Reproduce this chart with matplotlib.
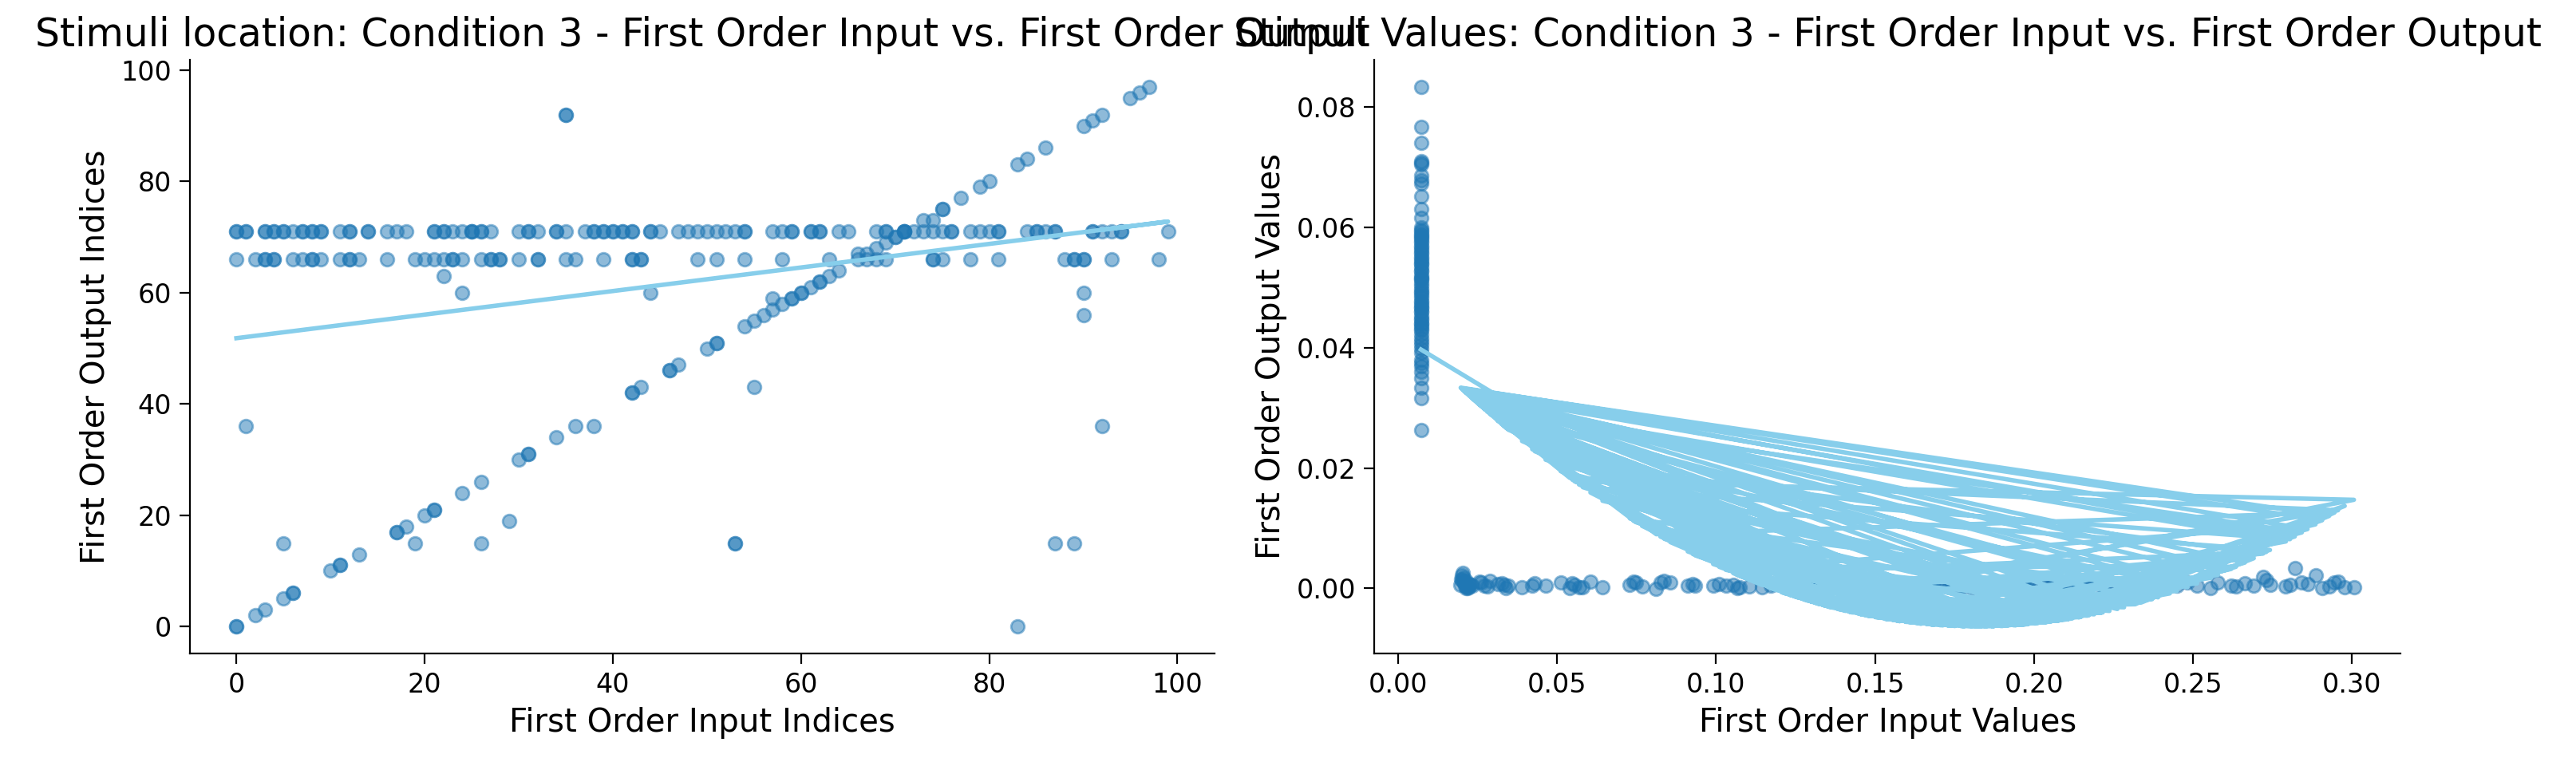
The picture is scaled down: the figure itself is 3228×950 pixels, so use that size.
import numpy as np
import matplotlib
matplotlib.use('Agg')
import matplotlib.pyplot as plt

# ---- left panel: stimuli location (indices) ----
row71_x = [0, 0, 1, 1, 3, 3, 4, 4, 5, 5, 6, 7, 7, 8, 8, 9, 9, 11, 12, 12, 14, 14, 16, 17, 18,
           21, 21, 22, 22, 23, 24, 25, 25, 25, 26, 26, 27, 30, 31, 31, 32, 34, 34, 35, 37,
           38, 38, 39, 39, 40, 40, 41, 41, 42, 42, 44, 44, 45, 47, 48, 49, 50, 51, 52, 53,
           54, 54, 57, 58, 59, 59, 61, 61, 62, 62, 64, 65, 68, 69, 69, 71, 71, 72, 73, 74,
           75, 76, 76, 78, 79, 80, 81, 81, 84, 85, 85, 86, 87, 87, 91, 91, 92, 93, 94, 94, 99]
row66_x = [0, 2, 3, 3, 4, 4, 6, 7, 8, 8, 9, 11, 12, 12, 13, 16, 19, 20, 21, 22, 23, 23,
           24, 26, 27, 27, 28, 28, 30, 32, 32, 35, 36, 39, 42, 42, 43, 43, 49, 51, 54, 58,
           63, 66, 67, 68, 69, 74, 74, 75, 78, 81, 88, 89, 89, 90, 90, 93, 98]
diag_x = [0, 0, 2, 3, 5, 6, 6, 10, 11, 11, 13, 17, 17, 18, 20, 21, 21, 24, 26, 30, 31, 31,
          34, 42, 42, 43, 46, 46, 47, 50, 51, 51, 54, 55, 56, 57, 58, 57, 59, 59, 60, 60,
          61, 62, 62, 63, 64, 66, 67, 68, 69, 70, 70, 71, 71, 73, 74, 75, 75, 77, 79, 80,
          83, 84, 86, 90, 91, 92, 95, 96, 97]
diag_y = [0, 0, 2, 3, 5, 6, 6, 10, 11, 11, 13, 17, 17, 18, 20, 21, 21, 24, 26, 30, 31, 31,
          34, 42, 42, 43, 46, 46, 47, 50, 51, 51, 54, 55, 56, 57, 58, 59, 59, 59, 60, 60,
          61, 62, 62, 63, 64, 67, 67, 68, 69, 70, 70, 71, 71, 73, 73, 75, 75, 77, 79, 80,
          83, 84, 86, 90, 91, 92, 95, 96, 97]
other_x = [1, 5, 19, 26, 29, 36, 38, 22, 24, 35, 35, 44, 55, 53, 53, 83, 87, 89, 90, 90, 92]
other_y = [36, 15, 15, 15, 19, 36, 36, 63, 60, 92, 92, 60, 43, 15, 15, 0, 15, 15, 60, 56, 36]

# ---- right panel: stimuli values ----
cluster_x = 0.0072
cluster_y = [0.0534, 0.0472, 0.0587, 0.0416, 0.0708, 0.0551, 0.0446, 0.0593, 0.0380, 0.0507,
             0.0563, 0.0429, 0.0834, 0.0498, 0.0575, 0.0453, 0.0360, 0.0521, 0.0600, 0.0484,
             0.0652, 0.0439, 0.0545, 0.0398, 0.0570, 0.0466, 0.0512, 0.0616, 0.0423, 0.0539,
             0.0491, 0.0705, 0.0581, 0.0350, 0.0459, 0.0527, 0.0768, 0.0436, 0.0556, 0.0478,
             0.0596, 0.0405, 0.0517, 0.0686, 0.0461, 0.0548, 0.0334, 0.0494, 0.0584, 0.0441,
             0.0631, 0.0529, 0.0369, 0.0567, 0.0475, 0.0411, 0.0741, 0.0503, 0.0559, 0.0449,
             0.0673, 0.0392, 0.0541, 0.0487, 0.0316, 0.0578, 0.0432, 0.0710, 0.0515, 0.0263,
             0.0678, 0.0468, 0.0374, 0.0589]

low_x = [0.1449, 0.0207, 0.2805, 0.0581, 0.1963, 0.1219, 0.0218, 0.2578, 0.1705, 0.0326,
         0.2141, 0.2928, 0.0199, 0.1558, 0.0935, 0.2336, 0.2691, 0.1301, 0.0224, 0.0748,
         0.1848, 0.2977, 0.2074, 0.0262, 0.0210, 0.1639, 0.2730, 0.1066, 0.1356, 0.2216,
         0.0202, 0.2860, 0.1779, 0.0422, 0.2482, 0.0214, 0.2513, 0.1510, 0.0837, 0.2004,
         0.1257, 0.2956, 0.0540, 0.0233, 0.1895, 0.2101, 0.2635, 0.1010, 0.1407, 0.0205,
         0.1712, 0.2842, 0.0281, 0.2390, 0.0213, 0.1598, 0.2742, 0.0643, 0.2189, 0.1171,
         0.0197, 0.2906, 0.1914, 0.0911, 0.1476, 0.2032, 0.2663, 0.0221, 0.0347, 0.1801,
         0.1319, 0.3006, 0.0556, 0.2262, 0.0208, 0.1663, 0.2556, 0.1105, 0.2106, 0.1537,
         0.0216, 0.2820, 0.1942, 0.0314, 0.1384, 0.2318, 0.2945, 0.0812, 0.0201, 0.1751,
         0.1232, 0.2720, 0.0464, 0.2172, 0.0228, 0.1615, 0.2885, 0.1031, 0.1970, 0.1421,
         0.0211, 0.2620, 0.1827, 0.0729, 0.2449, 0.1502, 0.2792, 0.0255, 0.2053, 0.0204,
         0.1279, 0.0856, 0.2147, 0.1733, 0.0390, 0.1869, 0.2427, 0.0271, 0.1569, 0.2011,
         0.0740, 0.1392, 0.1902, 0.1054, 0.1144, 0.2237, 0.0512, 0.1772, 0.2079, 0.0339,
         0.1481, 0.2371, 0.0569, 0.1684, 0.1315, 0.0927, 0.1937, 0.2120, 0.0290, 0.1609,
         0.1183, 0.0767, 0.1981, 0.1806, 0.0430, 0.2210, 0.1428, 0.1074, 0.1740, 0.1288,
         0.0548, 0.2039, 0.1533, 0.0991, 0.2283, 0.1250, 0.0605, 0.1873, 0.1677, 0.0333,
         0.2168, 0.1342, 0.0825, 0.1833, 0.1455, 0.1646, 0.1361, 0.1206, 0.1574]
low_y = [0.0004, 0.0011, 0.0006, 0.0002, 0.0007, 0.0003, 0.0001, 0.0009, 0.0005, 0.0008,
         0.0006, 0.0003, 0.0015, 0.0002, 0.0004, 0.0009, 0.0005, 0.0003, 0.0007, 0.0010,
         0.0005, 0.0002, 0.0008, 0.0009, 0.0004, 0.0006, 0.0013, 0.0001, 0.0007, 0.0004,
         0.0022, 0.0007, 0.0003, 0.0005, 0.0010, 0.0000, 0.0004, 0.0006, 0.0012, 0.0002,
         0.0008, 0.0011, 0.0001, 0.0005, 0.0004, 0.0006, 0.0003, 0.0007, 0.0002, 0.0018,
         0.0005, 0.0009, 0.0003, 0.0007, 0.0012, 0.0001, 0.0006, 0.0002, 0.0008, 0.0004,
         0.0006, 0.0001, 0.0009, 0.0004, 0.0006, 0.0003, 0.0008, 0.0002, 0.0005, 0.0007,
         0.0003, 0.0002, 0.0006, 0.0005, 0.0009, 0.0004, 0.0001, 0.0003, 0.0007, 0.0010,
         0.0003, 0.0034, 0.0005, 0.0007, 0.0002, 0.0006, 0.0009, -0.0001, 0.0013, 0.0004,
         0.0006, 0.0019, 0.0004, 0.0002, 0.0006, 0.0008, 0.0021, 0.0005, 0.0003, 0.0009,
         0.0008, 0.0005, 0.0002, 0.0006, 0.0004, 0.0007, 0.0003, 0.0011, 0.0005, 0.0026,
         0.0004, 0.0009, 0.0006, 0.0003, 0.0002, 0.0008, 0.0005, 0.0004, 0.0007, 0.0001,
         0.0011, 0.0005, 0.0003, 0.0006, 0.0002, 0.0007, 0.0010, 0.0004, 0.0006, 0.0001,
         0.0003, 0.0008, 0.0002, 0.0006, 0.0009, 0.0007, 0.0004, 0.0005, 0.0012, 0.0002,
         0.0007, 0.0003, 0.0005, 0.0001, 0.0008, 0.0004, 0.0006, 0.0002, 0.0009, 0.0005,
         0.0008, 0.0003, 0.0006, 0.0004, 0.0002, 0.0007, 0.0011, 0.0005, 0.0003, 0.0006,
         0.0004, 0.0006, 0.0009, 0.0002, 0.0005, 0.0008, 0.0003, 0.0007, 0.0004]

idx_x = np.array(row71_x + row66_x + diag_x + other_x, dtype=float)
idx_y = np.array([71] * len(row71_x) + [66] * len(row66_x) + diag_y + other_y, dtype=float)

val_x = np.array([cluster_x] * len(cluster_y) + low_x)
val_y = np.array(cluster_y + low_y)

fig = plt.figure(figsize=(16.14, 4.75), dpi=200)
ax1 = fig.add_axes([0.0737, 0.1379, 0.3978, 0.7832])
ax2 = fig.add_axes([0.5335, 0.1379, 0.3984, 0.7832])

title_fs = 17.5
label_fs = 14.5
tick_fs = 12
line_c = 'skyblue'

# left: indices with linear fit
ax1.scatter(idx_x, idx_y, alpha=0.5)
c1 = np.polyfit(idx_x, idx_y, 1)
ax1.plot(idx_x, np.polyval(c1, idx_x), color=line_c, lw=2)
ax1.set_title('Stimuli location: Condition 3 - First Order Input vs. First Order Output', fontsize=title_fs)
ax1.set_xlabel('First Order Input Indices', fontsize=label_fs)
ax1.set_ylabel('First Order Output Indices', fontsize=label_fs)

# right: values with quadratic fit (plotted in data order)
ax2.scatter(val_x, val_y, alpha=0.5)
c2 = np.polyfit(val_x, val_y, 2)
ax2.plot(val_x, np.polyval(c2, val_x), color=line_c, lw=2)
ax2.set_title('Stimuli Values: Condition 3 - First Order Input vs. First Order Output', fontsize=title_fs)
ax2.set_xlabel('First Order Input Values', fontsize=label_fs)
ax2.set_ylabel('First Order Output Values', fontsize=label_fs)

for ax in (ax1, ax2):
    ax.spines['top'].set_visible(False)
    ax.spines['right'].set_visible(False)
    ax.tick_params(labelsize=tick_fs, length=4.8)

fig.savefig('out.png', dpi=200)
